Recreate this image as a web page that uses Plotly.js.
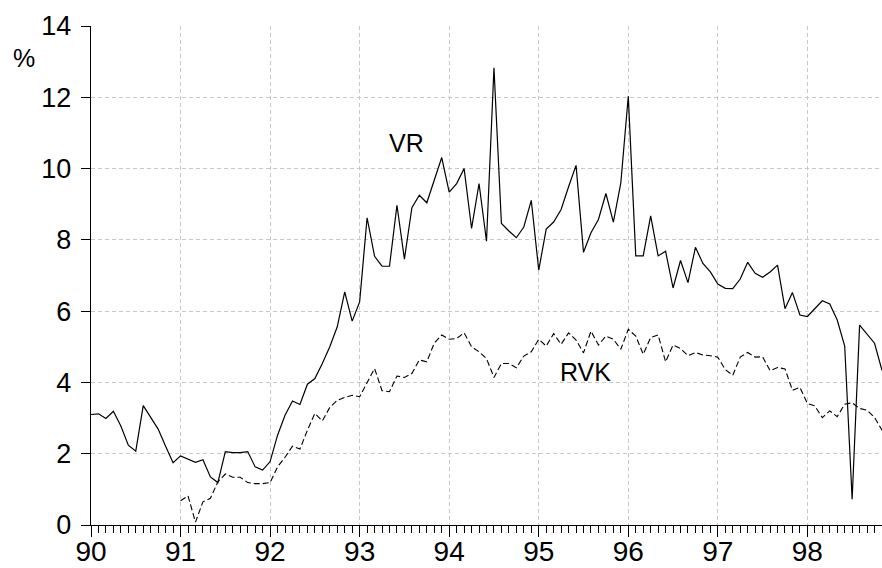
<!DOCTYPE html>
<html>
<head>
<meta charset="utf-8">
<script src="https://cdn.plot.ly/plotly-3.0.1.min.js"></script>
<style>html,body{margin:0;padding:0;background:#fff;}#chart{width:882px;height:568px;}</style>
</head>
<body>
<div id="chart"></div>
<script>
// Monthly observations, starting January 1990
const startYear = 90;
const yearTicks = [90, 91, 92, 93, 94, 95, 96, 97, 98];
const yearLabels = ["90", "91", "92", "93", "94", "95", "96", "97", "98"];

const vr = [
  3.10, 3.12, 2.99, 3.19, 2.78, 2.24, 2.07, 3.35, 3.02, 2.69, 2.21, 1.75,
  1.94, 1.86, 1.76, 1.83, 1.35, 1.19, 2.06, 2.03, 2.03, 2.06, 1.63, 1.54,
  1.78, 2.52, 3.08, 3.48, 3.38, 3.95, 4.11, 4.53, 5.00, 5.56, 6.54, 5.72,
  6.26, 8.62, 7.54, 7.26, 7.26, 8.97, 7.46, 8.90, 9.25, 9.04, 9.67, 10.31,
  9.34, 9.58, 10.00, 8.32, 9.58, 7.96, 12.83, 8.46, 8.25, 8.06, 8.36, 9.11,
  7.15, 8.30, 8.50, 8.85, 9.49, 10.09, 7.65, 8.20, 8.57, 9.30, 8.50, 9.60,
  12.03, 7.55, 7.55, 8.67, 7.55, 7.68, 6.65, 7.42, 6.80, 7.79, 7.34, 7.10,
  6.76, 6.64, 6.63, 6.90, 7.37, 7.06, 6.95, 7.10, 7.29, 6.07, 6.52, 5.89,
  5.85, 6.07, 6.29, 6.20, 5.75, 5.02, 0.72, 5.61, 5.34, 5.10, 4.34
];

const rvk = [
  null, null, null, null, null, null, null, null, null, null, null, null,
  0.68, 0.82, 0.08, 0.65, 0.75, 1.21, 1.43, 1.34, 1.34, 1.19, 1.16, 1.16,
  1.19, 1.63, 1.90, 2.21, 2.13, 2.66, 3.13, 2.92, 3.30, 3.50, 3.58, 3.64,
  3.60, 4.00, 4.39, 3.77, 3.74, 4.18, 4.14, 4.25, 4.63, 4.58, 5.10, 5.33,
  5.21, 5.23, 5.39, 5.00, 4.86, 4.67, 4.14, 4.53, 4.53, 4.41, 4.74, 4.86,
  5.21, 5.02, 5.37, 5.07, 5.39, 5.19, 4.83, 5.44, 5.05, 5.30, 5.21, 4.93,
  5.49, 5.30, 4.79, 5.26, 5.33, 4.58, 5.05, 4.95, 4.75, 4.84, 4.77, 4.75,
  4.71, 4.36, 4.20, 4.71, 4.84, 4.71, 4.72, 4.33, 4.42, 4.38, 3.78, 3.86,
  3.41, 3.34, 3.01, 3.20, 3.04, 3.39, 3.43, 3.27, 3.22, 3.02, 2.66
];

const months = vr.map((_, i) => startYear + i / 12);

const font = "Liberation Sans, Arial, sans-serif";

const traces = [
  {x: months, y: vr, type: "scatter", mode: "lines", name: "VR",
   line: {color: "#000", width: 1.2}},
  {x: months, y: rvk, type: "scatter", mode: "lines", name: "RVK",
   line: {color: "#000", width: 1.1, dash: "6px,3px"}},
  // invisible trace that activates the grid-only overlay axis
  {x: [90], y: [0], yaxis: "y2", type: "scatter", mode: "lines",
   hoverinfo: "skip", line: {width: 0}, showlegend: false}
];

const layout = {
  width: 882, height: 568,
  margin: {l: 91, r: 0, t: 26, b: 43},
  paper_bgcolor: "#fff", plot_bgcolor: "#fff",
  showlegend: false,
  font: {family: font, color: "#000"},
  xaxis: {
    range: [90, 90 + (vr.length - 1) / 12],
    tickvals: yearTicks, ticktext: yearLabels,
    ticks: "outside", ticklen: 11, tickcolor: "#000", tickwidth: 1,
    ticklabelstandoff: -10,
    showline: true, linecolor: "#000", linewidth: 1.3,
    showgrid: true, gridcolor: "#c8c8c8", griddash: "4px,3px", gridwidth: 1,
    zeroline: false,
    tickfont: {size: 28, family: font, color: "#000"},
    minor: {dtick: 1 / 12, tick0: 90, ticks: "outside", ticklen: 7, tickcolor: "#000", showgrid: false}
  },
  yaxis: {
    range: [0, 14],
    tickvals: [0, 2, 4, 6, 8, 10, 12, 14],
    ticks: "outside", ticklen: 9, tickcolor: "#000", tickwidth: 1,
    ticklabelstandoff: 4,
    showline: true, linecolor: "#000", linewidth: 1.3,
    showgrid: false, zeroline: false,
    tickfont: {size: 27, family: font, color: "#000"}
  },
  yaxis2: {
    overlaying: "y", range: [0, 14],
    tickvals: [2, 4, 6, 8, 10, 12],
    showticklabels: false, ticks: "",
    showgrid: true, gridcolor: "#c8c8c8", griddash: "4px,3px", gridwidth: 1,
    showline: false, zeroline: false
  },
  annotations: [
    {text: "VR", x: 93.525, y: 10.71, xref: "x", yref: "y", showarrow: false,
     font: {size: 25, family: font, color: "#000"}},
    {text: "RVK", x: 95.525, y: 4.30, xref: "x", yref: "y", showarrow: false,
     font: {size: 25, family: font, color: "#000"}},
    {text: "%", x: -0.1015, y: 0.967, xref: "paper", yref: "paper", showarrow: false,
     font: {size: 25, family: font, color: "#000"}}
  ]
};

Plotly.newPlot("chart", traces, layout, {staticPlot: true});
</script>
</body>
</html>
